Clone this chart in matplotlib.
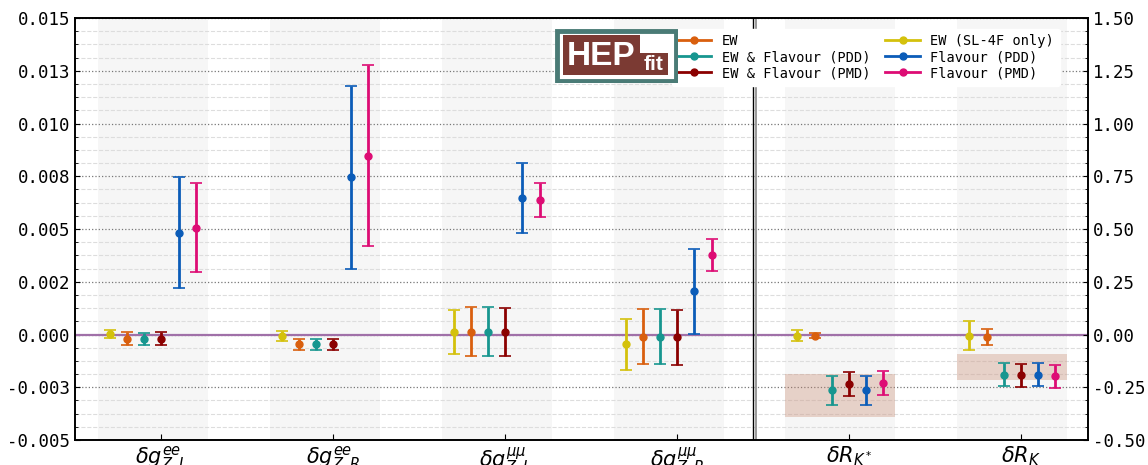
import numpy as np
import matplotlib
matplotlib.use('Agg')
import matplotlib.pyplot as plt
from matplotlib.lines import Line2D
from matplotlib.patches import Rectangle
from matplotlib.ticker import FixedLocator, MultipleLocator

# couplings (left axis)
g_labels = [r'$\delta g_{Z,L}^{ee}$', r'$\delta g_{Z,R}^{ee}$',
            r'$\delta g_{Z,L}^{\mu\mu}$', r'$\delta g_{Z,R}^{\mu\mu}$']
# ratios (right axis)
r_labels = [r'$\delta R_{K^*}$', r'$\delta R_K$']

series_names = ['EW (SL-4F only)', 'EW', 'EW & Flavour (PDD)',
                'EW & Flavour (PMD)', 'Flavour (PDD)', 'Flavour (PMD)']
series_colors = ['#d4c10c', '#d95f0e', '#17968f', '#8b0000', '#0b5cb8', '#dd0c74']

g_vals = [
    [0.00003, -0.00008, 0.00013, -0.00047],
    [-0.00020, -0.00047, 0.00014, -0.00010],
    [-0.00020, -0.00047, 0.00014, -0.00010],
    [-0.00020, -0.00047, 0.00012, -0.00013],
    [0.00483, 0.00745, 0.00646, 0.00204],
    [0.00507, 0.00848, 0.00638, 0.00376],
]
g_errs = [
    [0.00020, 0.00024, 0.00105, 0.00120],
    [0.00030, 0.00028, 0.00114, 0.00130],
    [0.00028, 0.00028, 0.00114, 0.00130],
    [0.00030, 0.00028, 0.00113, 0.00130],
    [0.00263, 0.00435, 0.00165, 0.00203],
    [0.00210, 0.00430, 0.00080, 0.00075],
]

r_vals = [
    [-0.005, -0.005],
    [-0.005, -0.011],
    [-0.265, -0.190],
    [-0.234, -0.194],
    [-0.265, -0.190],
    [-0.231, -0.198],
]
r_errs = [
    [0.027, 0.068],
    [0.011, 0.038],
    [0.068, 0.055],
    [0.057, 0.053],
    [0.070, 0.056],
    [0.058, 0.054],
]

# measured R_K bands: centre, half width
exp_centre = [-0.289, -0.155]
exp_half = [0.103, 0.062]

offsets = [-0.3, -0.2, -0.1, 0.0, 0.1, 0.2]
band_lo, band_hi = -0.37, 0.27

mono = 'DejaVu Sans Mono'

fig = plt.figure(figsize=(11.48, 4.65), dpi=100)
ax = fig.add_axes([75/1148, 1 - 440/465, (1088-75)/1148, (440-18)/465])
ax2 = ax.twinx()

n_g = len(g_labels)
x_g = np.arange(n_g)
x_r = np.arange(n_g, n_g + len(r_labels))

for xc in np.concatenate([x_g, x_r]):
    ax.axvspan(xc + band_lo, xc + band_hi, color='#f6f6f6', zorder=0, lw=0)

ax.set_axisbelow(True)
ax.grid(which='major', axis='y', ls=':', color='#777777', lw=0.9)
ax.grid(which='minor', axis='y', ls='--', color='#dddddd', lw=0.8)
ax.axhline(0, color='#a070a8', lw=1.6, zorder=1)

for i in range(len(series_names)):
    ax.errorbar(x_g + offsets[i], g_vals[i], yerr=g_errs[i], fmt='o', color=series_colors[i],
                ms=5, elinewidth=2, capsize=4, capthick=1.2, zorder=3)
    ax2.errorbar(x_r + offsets[i], r_vals[i], yerr=r_errs[i], fmt='o', color=series_colors[i],
                 ms=5, elinewidth=2, capsize=4, capthick=1.2, zorder=3)

for j in range(len(r_labels)):
    ax2.add_patch(Rectangle((x_r[j] + band_lo, exp_centre[j] - exp_half[j]),
                            band_hi - band_lo, 2 * exp_half[j],
                            facecolor='#c8866c', alpha=0.33, lw=0, zorder=1))

ax.axvline(3.44, color='black', lw=1.0)
ax.axvline(3.46, color='#999999', lw=1.4)

ax.set_xlim(-0.503, 5.39)
ax.set_ylim(-0.005, 0.015)
ax2.set_ylim(-0.5, 1.5)

left_ticks = [-0.005, -0.0025, 0.0, 0.0025, 0.005, 0.0075, 0.01, 0.0125, 0.015]
left_tick_labels = ['-0.005', '-0.003', '0.000', '0.002', '0.005', '0.008', '0.010', '0.013', '0.015']
ax.yaxis.set_major_locator(FixedLocator(left_ticks))
ax.set_yticklabels(left_tick_labels, family=mono, fontsize=12.5)
ax.yaxis.set_minor_locator(MultipleLocator(0.000625))

right_ticks = [-0.5, -0.25, 0.0, 0.25, 0.5, 0.75, 1.0, 1.25, 1.5]
ax2.yaxis.set_major_locator(FixedLocator(right_ticks))
ax2.set_yticklabels(['%.2f' % t for t in right_ticks], family=mono, fontsize=12.5)
ax2.yaxis.set_minor_locator(MultipleLocator(0.0625))

ax.set_xticks(np.concatenate([x_g, x_r]))
ax.set_xticklabels(g_labels + r_labels, fontsize=15)
ax.tick_params(axis='y', which='both', direction='in')
ax2.tick_params(axis='y', which='both', direction='in')
ax.tick_params(axis='x', direction='in', length=4)
for a in (ax, ax2):
    for s in a.spines.values():
        s.set_linewidth(1.2)

# legend
order = [1, 2, 3, 0, 4, 5]
handles = [Line2D([], [], color=series_colors[k], lw=2, marker='o', ms=5) for k in order]
ax2.legend(handles, [series_names[k] for k in order], ncol=2, loc='upper left',
           bbox_to_anchor=(0.589, 0.975), prop={'family': mono, 'size': 9.8},
           frameon=True, facecolor='white', edgecolor='white', framealpha=1,
           handlelength=2.5, handletextpad=0.8, columnspacing=1.1, labelspacing=0.15,
           borderaxespad=0.0)

# HEPfit logo
logo = fig.add_axes([555/1148, 1 - 83/465, 123/1148, 54/465])
logo.set_xlim(0, 123)
logo.set_ylim(54, 0)
logo.axis('off')
logo.add_patch(Rectangle((2, 2), 119, 50, facecolor='white', edgecolor='#4a7b76', lw=3.5))
logo.add_patch(Rectangle((8, 6), 77, 40, facecolor='#7b3a33', lw=0))
logo.add_patch(Rectangle((85, 24), 28, 22, facecolor='#7b3a33', lw=0))
logo.text(46, 27.5, 'HEP', color='white', fontsize=24, fontweight='bold',
          family='Liberation Sans', ha='center', va='center')
logo.text(99, 36, 'fit', color='white', fontsize=15, fontweight='bold',
          family='Liberation Sans', ha='center', va='center')

fig.savefig('out.png', dpi=100)
